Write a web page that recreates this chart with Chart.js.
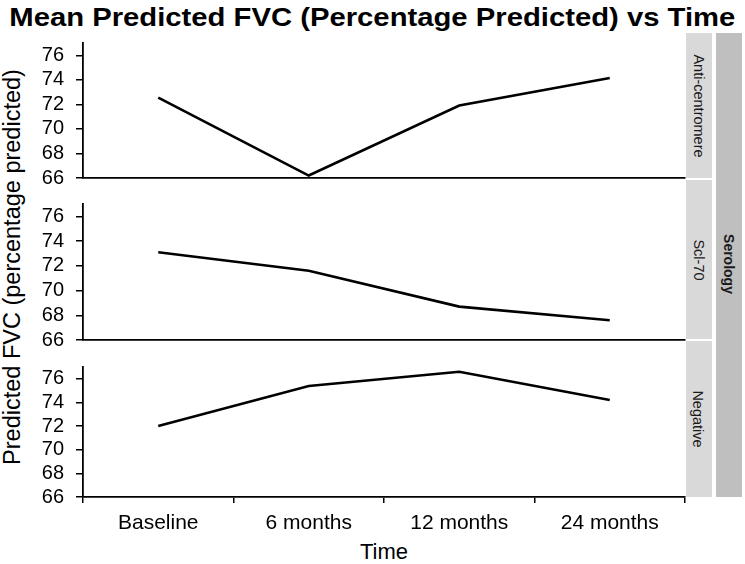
<!DOCTYPE html>
<html>
<head>
<meta charset="utf-8">
<script src="https://cdn.jsdelivr.net/npm/chart.js@4.4.0/dist/chart.umd.min.js"></script>
<style>
  body { margin: 0; background: #fff; }
  #wrap { position: relative; width: 745px; height: 564px; overflow: hidden; font-family: "Liberation Sans", Arial, sans-serif; }
  #title { position: absolute; left: 0; top: 3px; width: 745px; text-align: center; font-weight: bold; font-size: 25px; white-space: nowrap; }
  #title span { display: inline-block; transform-origin: center; }
  .rot { position: absolute; display: flex; align-items: center; justify-content: center; white-space: nowrap; }
  .strip { position: absolute; }
  canvas { position: absolute; left: 0; }
</style>
</head>
<body>
<div id="wrap">
  <div id="title"><span>Mean Predicted FVC (Percentage Predicted) vs Time</span></div>
</div>
<script>
const categories = ['Baseline', '6 months', '12 months', '24 months'];
const stripLabels = ['Anti-centromere', 'Scl-70', 'Negative'];
const antiCentromere = [72.55, 66.2, 71.9, 74.15];
const scl70 = [73.1, 71.6, 68.7, 67.6];
const negative = [72.0, 75.4, 76.6, 74.2];
const yTicks = [66, 68, 70, 72, 74, 76];

const FONT = '"Liberation Sans", Arial, sans-serif';
const wrap = document.getElementById('wrap');

// plot area boxes (px) and strip boxes
const panels = [
  { values: antiCentromere, top: 43, bottom: 178, strip: [33, 178] },
  { values: scl70, top: 204, bottom: 340, strip: [180, 339] },
  { values: negative, top: 367, bottom: 497, strip: [341, 497] }
];

function addRotText(text, cx, cy, len, thick, deg, css) {
  const d = document.createElement('div');
  d.className = 'rot';
  d.textContent = text;
  d.style.width = len + 'px';
  d.style.height = thick + 'px';
  d.style.left = (cx - len / 2) + 'px';
  d.style.top = (cy - thick / 2) + 'px';
  d.style.transform = 'rotate(' + deg + 'deg)';
  Object.assign(d.style, css);
  wrap.appendChild(d);
}

function addBox(x, y, w, h, color) {
  const d = document.createElement('div');
  d.className = 'strip';
  Object.assign(d.style, { left: x + 'px', top: y + 'px', width: w + 'px', height: h + 'px', background: color });
  wrap.appendChild(d);
}

// strips
panels.forEach((p, i) => {
  addBox(686, p.strip[0], 26, p.strip[1] - p.strip[0], '#d9d9d9');
  addRotText(stripLabels[i], 698, (p.strip[0] + p.strip[1]) / 2, p.strip[1] - p.strip[0], 26, 90,
    { fontSize: '14.5px', color: '#1a1a1a' });
});
addBox(716, 33, 26, 464, '#bfbfbf');
addRotText('Serology', 728.5, 264, 464, 26, 90, { fontSize: '14px', fontWeight: 'bold', color: '#1a1a1a' });

// axis titles
addRotText('Predicted FVC (percentage predicted)', 12, 267, 460, 30, -90, { fontSize: '23.5px', color: '#000' });
addRotText('Time', 384, 552, 200, 28, 0, { fontSize: '22px', color: '#000' });

function makePanel(p, showX) {
  const padTop = 12;
  const padBottom = showX ? 0 : 14;
  const xHeight = showX ? 50 : 0;
  const c = document.createElement('canvas');
  const h = (p.bottom - p.top) + padTop + padBottom + xHeight;
  c.width = 688;
  c.height = h;
  c.style.top = (p.top - padTop) + 'px';
  c.style.width = '688px';
  c.style.height = h + 'px';
  wrap.appendChild(c);

  new Chart(c, {
    type: 'line',
    data: {
      labels: categories,
      datasets: [{
        data: p.values,
        borderColor: '#000',
        borderWidth: 2.6,
        pointRadius: 0,
        tension: 0,
        fill: false
      }]
    },
    options: {
      responsive: false,
      animation: false,
      devicePixelRatio: 1,
      layout: { padding: { top: padTop, right: 3, left: 0, bottom: padBottom } },
      plugins: { legend: { display: false }, tooltip: { enabled: false } },
      scales: {
        x: {
          type: 'category',
          offset: true,
          grid: { display: showX, offset: true, drawOnChartArea: false, drawTicks: true, tickLength: 6, color: '#000', lineWidth: 1.5 },
          border: { display: true, color: '#000', width: 1.8 },
          ticks: { display: showX, color: '#000', font: { family: FONT, size: 21 }, padding: 8, maxRotation: 0, autoSkip: false },
          afterFit: s => { s.height = xHeight; s.paddingLeft = 0; s.paddingRight = 0; }
        },
        y: {
          min: 66,
          max: 77,
          afterBuildTicks: s => { s.ticks = yTicks.map(v => ({ value: v })); },
          grid: { drawOnChartArea: false, drawTicks: true, tickLength: 7, color: '#000', lineWidth: 1.5 },
          border: { display: true, color: '#000', width: 1.8 },
          ticks: { color: '#000', font: { family: FONT, size: 20 }, padding: 12, autoSkip: false },
          afterFit: s => { s.width = 83; s.paddingTop = 0; s.paddingBottom = 0; }
        }
      }
    }
  });
}

panels.forEach((p, i) => makePanel(p, i === panels.length - 1));

// squeeze title to the width it has in the picture
const t = document.querySelector('#title span');
const w = t.getBoundingClientRect().width;
if (w > 0) t.style.transform = 'scaleX(' + (726 / w) + ')';
</script>
</body>
</html>
